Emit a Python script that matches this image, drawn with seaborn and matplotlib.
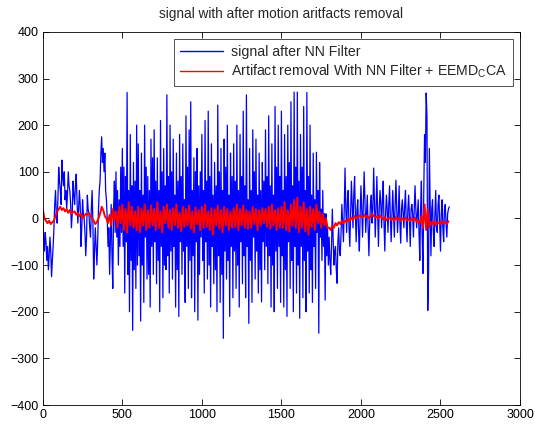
import numpy as np
import pandas as pd
import matplotlib
import matplotlib.pyplot as plt
import seaborn as sns

matplotlib.use('Agg')

# signal after NN filter, one value every 5 samples
blue_vals = [
    -10, -40, -70, -30, -50, -90, -60, -110, -80, -40, -70, -125, -90, -60, -20, 30, 60, 10, -10, 40,
    110, 80, 60, 30, 125, 90, 70, 100, 40, 60, 20, 50, 100, 70, 60, 30, -20, 10, 80, 50,
    30, 70, 95, 40, -10, 20, 60, 30, -60, -20, 40, 10, 0, -30, -80, -40, 50, 20, 10, -20,
    -40, 20, 60, -10, -130, -70, -20, -60, -100, -50, 20, 60, 80, 140, 175, 120, 150, 100, 140, 60,
    40, 0, -60, -20, -120, -40, 30, -80, -150, 20, 80, -30, 100, -40, 60, -100, 40, -60, 110, -30,
    150, -60, 110, -160, 90, -50, 270, -120, 60, -200, 180, -90, 70, -240, 120, -110, 80, -150, 200, -100,
    160, -80, 60, -220, 140, -100, 50, -180, 200, -40, 110, -130, 90, -120, 60, -190, 170, -60, 130, -120,
    190, -50, 80, -140, 130, -90, 60, -200, 210, -60, 100, -170, 150, -100, 70, -110, 265, -80, 90, -160,
    200, -70, 100, -130, 170, -60, 50, -190, 140, -110, 80, -210, 180, -50, 90, -120, 160, -70, 40, -180,
    220, -60, 110, -150, 190, -90, 250, -170, 60, -80, 130, -200, 100, -50, 150, -218, 70, -120, 100, -40,
    180, -90, 60, -160, 210, -50, 80, -130, 230, -100, 90, -190, 160, -60, 50, -140, 120, -110, 70, -200,
    243, -80, 100, -180, 150, -120, 60, -257, 170, -70, 110, -130, 200, -90, 50, -210, 140, -60, 90, -170,
    160, -70, 80, -150, 200, -100, 60, -190, 180, -50, 90, -140, 230, -80, 70, -170, 265, -60, 40, -225,
    150, -90, 60, -180, 190, -40, 100, -130, 170, -70, 50, -160, 140, -110, 60, -179, 120, -50, 80, -110,
    190, -60, 90, -140, 220, -80, 70, -190, 160, -100, 50, -200, 240, -70, 110, -150, 200, -60, 90, -180,
    230, -80, 60, -190, 180, -110, 90, -210, 200, -50, 120, -150, 250, -90, 70, -200, 271, -60, 110, -160,
    271, -100, 80, -214, 180, -60, 110, -170, 240, -90, 60, -200, 270, -70, 90, -160, 200, -110, 50, -180,
    140, -60, 40, -150, 142, -30, 60, -246, 120, -40, 20, -90, 60, -60, 10, -175, 10, -80, -20, -100,
    -40, -90, -120, -60, 20, -40, -100, -70, -60, -110, -139, -50, -20, -70, -80, -30, 30, -10, -50, 20,
    108, 20, -30, 40, 60, -20, -60, 10, 80, 30, -20, 50, 90, 10, -50, 20, 40, -30, -70, 10,
    70, 20, -40, 30, 100, 40, -30, 10, 50, -20, -80, -10, 30, 50, -10, 20, 108, 30, -40, 20,
    90, 10, -60, 20, 60, 30, -20, 40, 80, -10, -70, 10, 50, 20, -30, 30, 70, 0, -50, 10,
    60, 10, -40, 30, 82, 20, -30, 10, 70, -10, -53, 20, 40, 10, -20, 30, 60, -10, -50, 20,
    50, 0, -60, 20, 30, 10, -40, 20, 70, 20, -20, 10, 40, -30, -90, 20, 80, -40, -118, 60,
    180, 120, 269, 220, -197, -120, 150, 40, -80, 20, 40, -30, -60, 10, 60, -20, -30, 30, 50, -10,
    -70, 10, 40, -20, -50, 20, 30, -10, -40, 10, 20, 25,
]

# artifact removal with NN filter + EEMD-CCA, one value every 10 samples
red_vals = [
    20, 0, -5, -10, -5, -12, -8, -5, 5, 15,
    20, 25, 18, 22, 15, 20, 12, 18, 10, 14,
    15, 8, 12, 5, 10, 0, 5, 10, 8, 12,
    5, 0, -5, -12, -8, 0, 10, 25, 18, 5,
    0, -10, 8, -15, 20, -5, 15, -20, 25, -10,
    30, -25, 20, -30, 35, -15, 25, -20, 15, -25,
    25, -30, 20, -15, 30, -25, 18, -20, 28, -15,
    20, -25, 35, -20, 15, -30, 25, -10, 30, -20,
    18, -25, 22, -15, 30, -20, 12, -28, 25, -18,
    20, -15, 28, -22, 15, -30, 24, -12, 18, -25,
    25, -20, 30, -18, 15, -25, 22, -35, 20, -15,
    28, -22, 18, -30, 25, -15, 20, -25, 15, -20,
    22, -18, 30, -25, 20, -15, 28, -20, 18, -22,
    15, -20, 25, -12, 20, -25, 18, -15, 22, -10,
    20, -18, 25, -22, 30, -15, 18, -25, 22, -20,
    25, -20, 35, -25, 18, -28, 30, -15, 40, -20,
    45, -30, 25, -20, 35, -28, 20, -35, 25, -18,
    20, -25, 30, -10, 15, -20, 10, -15, 0, -20,
    -20, -25, -15, -20, -10, -15, -8, -12, -5, -10,
    -5, -8, 0, -5, 2, -3, 5, 0, 3, 6,
    5, 2, 8, 3, 6, 0, 4, 10, 5, 2,
    4, 0, 6, 2, -2, 3, -4, 0, 2, -3,
    0, -5, 3, -2, 1, -6, 0, -3, 2, -4,
    -2, -6, 0, -4, 2, -8, -5, -10, 5, -20,
    30, -25, 20, -18, -8, -12, -5, -15, -8, -10,
    -12, -5, -10, -8, -12, -6,
]

blue_step = 5
red_step = 10
x_ticks = [0, 500, 1000, 1500, 2000, 2500, 3000]
y_ticks = [-400, -300, -200, -100, 0, 100, 200, 300, 400]

sns.set_style('ticks')
plt.rcParams['font.family'] = ['Liberation Sans', 'DejaVu Sans']
plt.rcParams['mathtext.fontset'] = 'custom'
plt.rcParams['mathtext.rm'] = 'Liberation Sans'
plt.rcParams['mathtext.it'] = 'Liberation Sans'

blue_df = pd.DataFrame({'sample': np.arange(len(blue_vals)) * blue_step, 'value': blue_vals})
red_df = pd.DataFrame({'sample': np.arange(len(red_vals)) * red_step, 'value': red_vals})

fig = plt.figure(figsize=(5.35, 4.25), dpi=100)
ax = fig.add_axes([0.080, 0.047, 0.892, 0.878])

sns.lineplot(data=blue_df, x='sample', y='value', ax=ax, color='#0000ff',
             linewidth=0.9, estimator=None, sort=False, label='signal after NN Filter')
sns.lineplot(data=red_df, x='sample', y='value', ax=ax, color='#ff0000',
             linewidth=1.4, estimator=None, sort=False,
             label='Artifact removal With NN Filter + EEMD$_{\\mathrm{C}}$CA')

ax.set_xlim(0, 3000)
ax.set_ylim(-400, 400)
ax.set_xticks(x_ticks)
ax.set_yticks(y_ticks)
ax.set_xlabel('')
ax.set_ylabel('')
ax.tick_params(direction='in', top=True, right=True, labelsize=9, length=4,
               width=0.6, colors='black', pad=3)
for spine in ax.spines.values():
    spine.set_visible(True)
    spine.set_linewidth(0.6)
    spine.set_color('black')

ax.set_title('signal with after motion aritfacts removal', fontsize=9.8, pad=10)

leg = ax.legend(loc='upper right', fontsize=10.2, frameon=True, fancybox=False,
                borderaxespad=0.5, handlelength=3.0, borderpad=0.4, labelspacing=0.3,
                handletextpad=0.6)
leg.get_frame().set_edgecolor('black')
leg.get_frame().set_linewidth(0.6)
for line in leg.get_lines():
    line.set_linewidth(1.0)

fig.savefig('out.png', dpi=100)
plt.close(fig)
